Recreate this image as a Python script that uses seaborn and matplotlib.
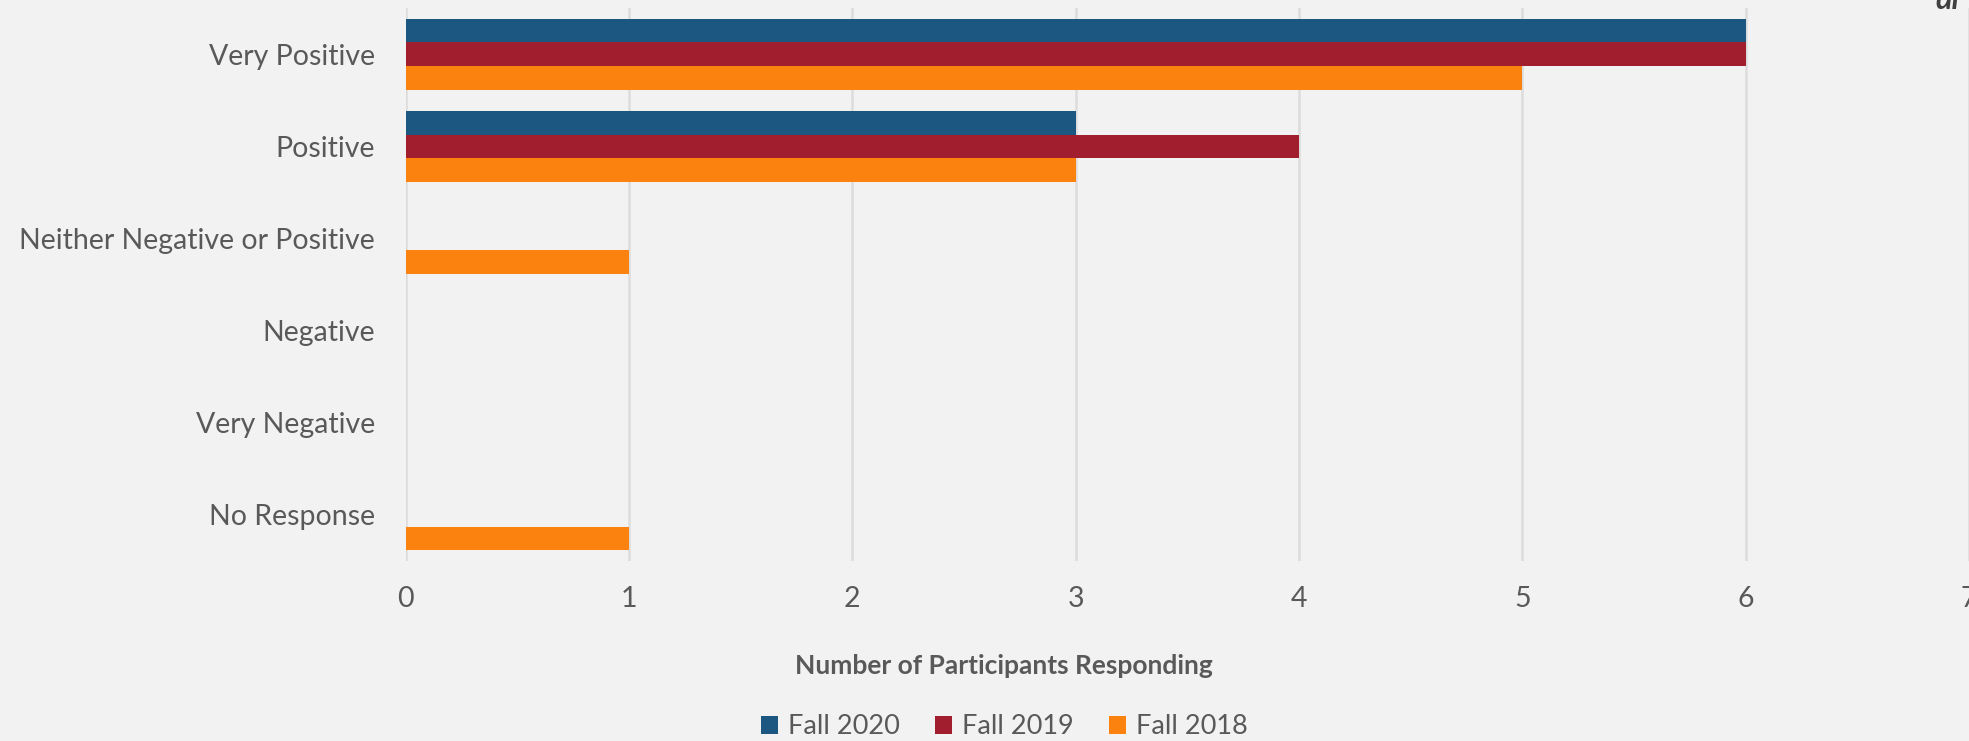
import matplotlib
matplotlib.use("Agg")
import matplotlib.pyplot as plt
import seaborn as sns
import pandas as pd
from matplotlib.patches import Patch

categories = ["Very Positive", "Positive", "Neither Negative or Positive",
              "Negative", "Very Negative", "No Response"]
series = ["Fall 2020", "Fall 2019", "Fall 2018"]
fall_2020 = [6, 3, 0, 0, 0, 0]
fall_2019 = [6, 4, 0, 0, 0, 0]
fall_2018 = [5, 3, 1, 0, 0, 1]
x_ticks = [0, 1, 2, 3, 4, 5, 6, 7]

colors = ["#1c5782", "#a01e2d", "#fb820e"]
bg = "#f2f2f2"
txt = "#595959"

rows = []
for s, vals in zip(series, [fall_2020, fall_2019, fall_2018]):
    for c, v in zip(categories, vals):
        rows.append({"Category": c, "Series": s, "Value": v})
df = pd.DataFrame(rows)

sns.set_theme(style="white")
plt.rcParams["font.family"] = ["Lato", "DejaVu Sans"]

fig = plt.figure(figsize=(19.69, 7.41), dpi=100, facecolor=bg)
ax = fig.add_axes([0.206, 0.243, 0.794, 0.746])
ax.set_facecolor(bg)

sns.barplot(data=df, y="Category", x="Value", hue="Series", order=categories,
            hue_order=series, palette=colors, orient="h", width=0.77,
            saturation=1, ax=ax, legend=False, zorder=3)
for p in ax.patches:
    p.set_edgecolor("none")

ax.set_xlim(0, 7)
ax.set_ylim(5.5, -0.5)
ax.set_xticks(x_ticks)
ax.set_xticklabels([str(t) for t in x_ticks], fontsize=20.5, color=txt)
ax.tick_params(axis="y", labelsize=20.5, labelcolor=txt, length=0, pad=22)
ax.tick_params(axis="x", length=0, pad=18)
ax.set_xlabel("")
ax.set_ylabel("")
ax.grid(axis="x", color="#dcdcdc", linewidth=1.8, zorder=0)
ax.grid(axis="y", visible=False)
ax.set_axisbelow(True)
for sp in ax.spines.values():
    sp.set_visible(False)

fig.text(0.51, 0.101, "Number of Participants Responding", ha="center",
         va="center", fontsize=19, fontweight="bold", color=txt)

handles = [Patch(facecolor=c, edgecolor="none") for c in colors]
fig.legend(handles, series, loc="center", bbox_to_anchor=(0.51, 0.019),
           ncol=3, frameon=False, fontsize=19.5, labelcolor=txt,
           handlelength=0.65, handleheight=0.65, handletextpad=0.35,
           columnspacing=1.3)

fig.text(0.983, 1.0, "di", ha="left", va="center", fontsize=22,
         fontweight="bold", fontstyle="italic", color="#404040")

fig.savefig("out.png", dpi=100, facecolor=bg)
